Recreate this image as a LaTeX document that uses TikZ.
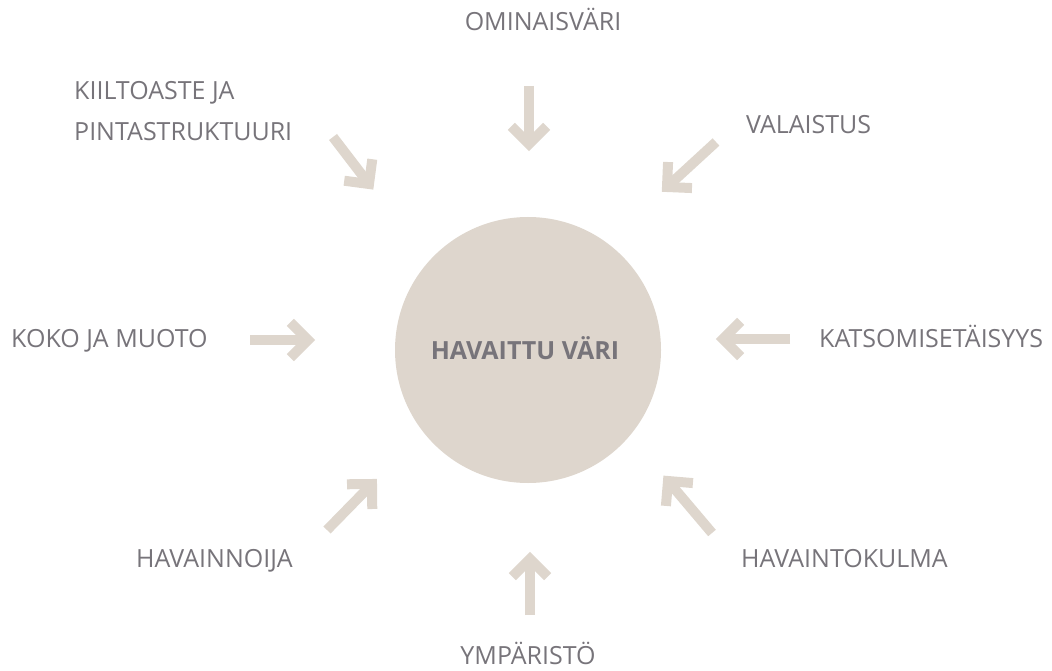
\documentclass[tikz,border=0pt]{standalone}
\usepackage{fontspec}
\setmainfont{Open Sans}
\usetikzlibrary{calc}
\definecolor{beige}{HTML}{DED6CD}
\definecolor{txt}{HTML}{77747A}
\begin{document}
\begin{tikzpicture}[x=1pt,y=-1pt,
  lbl/.style={text=txt,font=\fontsize{25}{30}\selectfont,inner sep=0pt},
  arrowbody/.style={draw=beige,line width=10pt,line cap=butt,line join=miter}]
\useasboundingbox (0,0) rectangle (1052,671);
\node[circle,fill=beige,minimum size=266pt,inner sep=0pt] (c) at (528,350) {};
\node[lbl,font=\fontsize{25}{30}\selectfont\bfseries,anchor=base] (ct) at (525,359) {HAVAITTU VÄRI};
% labels
\node[lbl,anchor=base] (l1) at (543,31) {OMINAISVÄRI};
\node[lbl,anchor=base west] (l2a) at (74,100) {KIILTOASTE JA};
\node[lbl,anchor=base west] (l2b) at (74,141) {PINTASTRUKTUURI};
\node[lbl,anchor=base west] (l3) at (746,134) {VALAISTUS};
\node[lbl,anchor=base west] (l4) at (11,347) {KOKO JA MUOTO};
\node[lbl,anchor=base west] (l5) at (819,347) {KATSOMISETÄISYYS};
\node[lbl,anchor=base west] (l6) at (136,567) {HAVAINNOIJA};
\node[lbl,anchor=base west] (l7) at (741,567) {HAVAINTOKULMA};
\node[lbl,anchor=base] (l8) at (528,664) {YMPÄRISTÖ};
% arrows: tail / tip
\coordinate (s1) at (529,86);  \coordinate (t1) at (529,144);
\coordinate (s2) at (333,137); \coordinate (t2) at (369,184);
\coordinate (s3) at (716,142); \coordinate (t3) at (667,187);
\coordinate (s4) at (250,340); \coordinate (t4) at (308,340);
\coordinate (s5) at (790,339); \coordinate (t5) at (723,339);
\coordinate (s6) at (327,530); \coordinate (t6) at (372,484);
\coordinate (s7) at (712,533); \coordinate (t7) at (668,481);
\coordinate (s8) at (530,615); \coordinate (t8) at (530,559);
\foreach \i in {1,...,8}{
  \draw[arrowbody] (s\i) -- (t\i);
  \draw[arrowbody] ($(t\i)!25pt!45:(s\i)$) -- (t\i) -- ($(t\i)!25pt!-45:(s\i)$);
}
\end{tikzpicture}
\end{document}
